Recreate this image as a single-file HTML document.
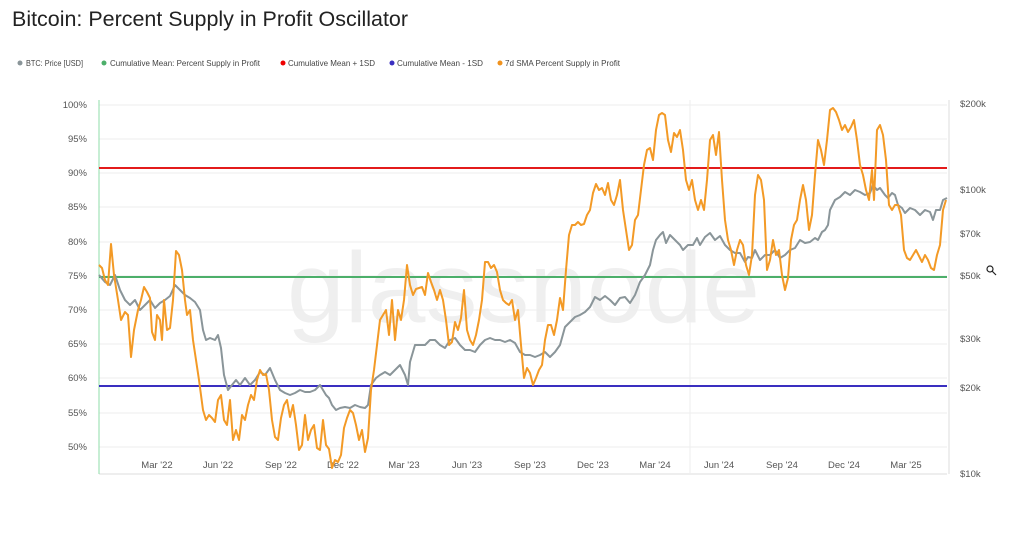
<!DOCTYPE html>
<html><head><meta charset="utf-8"><style>
body{margin:0;background:#fff;width:1024px;height:533px;overflow:hidden;font-family:"Liberation Sans",sans-serif}
</style></head><body>
<svg width="1024" height="533" xmlns="http://www.w3.org/2000/svg" font-family="Liberation Sans, sans-serif">
<text x="12" y="26" font-size="21" fill="#222" textLength="396" lengthAdjust="spacingAndGlyphs">Bitcoin: Percent Supply in Profit Oscillator</text>
<g font-size="8.5" fill="#444">
<circle cx="20" cy="63" r="2.5" fill="#8a9599"/><text x="26" y="66" textLength="57" lengthAdjust="spacingAndGlyphs">BTC: Price [USD]</text>
<circle cx="104" cy="63" r="2.5" fill="#4caf6a"/><text x="110" y="66" textLength="150" lengthAdjust="spacingAndGlyphs">Cumulative Mean: Percent Supply in Profit</text>
<circle cx="283" cy="63" r="2.5" fill="#e00"/><text x="288" y="66" textLength="87" lengthAdjust="spacingAndGlyphs">Cumulative Mean + 1SD</text>
<circle cx="392" cy="63" r="2.5" fill="#3a2fc0"/><text x="397" y="66" textLength="86" lengthAdjust="spacingAndGlyphs">Cumulative Mean - 1SD</text>
<circle cx="500" cy="63" r="2.5" fill="#f0921d"/><text x="505" y="66" textLength="115" lengthAdjust="spacingAndGlyphs">7d SMA Percent Supply in Profit</text>
</g>
<text x="287" y="322" font-size="100" fill="#efefef" textLength="473" lengthAdjust="spacingAndGlyphs">glassnode</text>
<g stroke="#eee" stroke-width="1">
<line x1="99" x2="947" y1="105" y2="105"/><line x1="99" x2="947" y1="139" y2="139"/><line x1="99" x2="947" y1="173" y2="173"/><line x1="99" x2="947" y1="207" y2="207"/><line x1="99" x2="947" y1="242" y2="242"/><line x1="99" x2="947" y1="276" y2="276"/><line x1="99" x2="947" y1="310" y2="310"/><line x1="99" x2="947" y1="344" y2="344"/><line x1="99" x2="947" y1="378" y2="378"/><line x1="99" x2="947" y1="413" y2="413"/><line x1="99" x2="947" y1="447" y2="447"/>
<line x1="99" x2="947" y1="474" y2="474" stroke="#ddd"/>
<line x1="690" x2="690" y1="100" y2="474"/>
</g>
<line x1="99" y1="100" x2="99" y2="474" stroke="#8fdcaa" stroke-width="1"/>
<line x1="949" y1="100" x2="949" y2="474" stroke="#ddd" stroke-width="1"/>
<g font-size="9.5" fill="#555" text-anchor="end">
<text x="87" y="108">100%</text><text x="87" y="142">95%</text><text x="87" y="176">90%</text><text x="87" y="210">85%</text><text x="87" y="245">80%</text><text x="87" y="279">75%</text><text x="87" y="313">70%</text><text x="87" y="347">65%</text><text x="87" y="381">60%</text><text x="87" y="416">55%</text><text x="87" y="450">50%</text>
</g>
<g font-size="9.5" fill="#555">
<text x="960" y="107">$200k</text><text x="960" y="193">$100k</text><text x="960" y="237">$70k</text><text x="960" y="279">$50k</text><text x="960" y="342">$30k</text><text x="960" y="391">$20k</text><text x="960" y="477">$10k</text>
</g>
<g font-size="9.5" fill="#555" text-anchor="middle">
<text x="157" y="468">Mar '22</text><text x="218" y="468">Jun '22</text><text x="281" y="468">Sep '22</text><text x="343" y="468">Dec '22</text><text x="404" y="468">Mar '23</text><text x="467" y="468">Jun '23</text><text x="530" y="468">Sep '23</text><text x="593" y="468">Dec '23</text><text x="655" y="468">Mar '24</text><text x="719" y="468">Jun '24</text><text x="782" y="468">Sep '24</text><text x="844" y="468">Dec '24</text><text x="906" y="468">Mar '25</text>
</g>
<line x1="99" x2="947" y1="168" y2="168" stroke="#e31b1b" stroke-width="2"/>
<line x1="99" x2="947" y1="277" y2="277" stroke="#4caf6a" stroke-width="2"/>
<line x1="99" x2="947" y1="386" y2="386" stroke="#3a2fc0" stroke-width="2"/>
<polyline fill="none" stroke="#8a9599" stroke-width="2" stroke-linejoin="round" points="99,275 105,282 110,285 115,275 120,290 125,300 130,305 135,300 140,310 145,305 150,300 155,308 160,303 165,300 170,296 175,285 180,290 185,295 190,298 195,302 200,310 203,330 206,340 210,338 215,340 218,335 221,348 224,375 228,390 232,385 236,380 240,385 245,378 250,385 255,380 260,372 265,375 270,368 275,380 280,390 285,393 290,395 295,393 300,390 305,392 310,392 315,390 320,385 323,390 326,395 329,398 332,405 336,410 340,408 345,407 350,408 355,405 360,407 365,408 368,405 371,385 376,378 380,375 385,372 390,375 395,370 400,365 405,375 408,385 410,362 415,345 420,345 425,345 430,340 435,340 440,345 445,348 450,340 455,338 460,345 465,350 470,350 475,352 480,345 485,340 490,338 495,340 500,340 505,342 510,340 515,343 520,352 525,355 530,355 535,357 540,355 545,352 550,357 555,352 560,345 565,327 570,322 575,317 580,315 585,312 590,307 595,297 600,300 605,296 610,300 615,305 620,298 625,297 630,303 635,295 640,282 645,275 650,265 653,250 656,240 660,235 663,232 666,243 670,235 675,240 680,245 683,250 688,245 693,245 697,238 700,245 705,237 710,233 715,240 720,236 725,245 730,250 735,253 740,253 745,262 748,257 752,258 755,250 760,260 765,255 770,255 775,250 780,258 785,255 790,250 795,248 800,240 805,243 810,242 815,238 818,240 822,232 825,230 828,225 830,210 835,200 840,197 845,192 850,195 855,190 860,192 865,195 870,193 873,185 877,190 880,188 885,195 888,198 892,193 895,195 898,205 902,208 905,213 910,208 915,210 920,215 925,210 930,212 933,220 936,210 940,210 943,200 947,198"/>
<polyline fill="none" stroke="#f39a26" stroke-width="2" stroke-linejoin="round" points="99,265 102,268 105,280 108,285 111,244 114,275 118,300 121,320 125,312 128,315 131,357 134,330 138,310 141,300 144,287 147,292 150,298 152,332 155,340 157,315 160,320 162,340 164,300 167,330 170,328 173,300 176,251 179,255 182,270 185,300 187,315 190,310 193,340 196,360 199,380 203,410 206,420 209,415 212,418 215,422 218,400 221,395 224,420 227,425 230,400 233,440 236,430 239,440 242,415 245,420 248,405 251,395 254,400 257,380 260,370 263,375 266,374 269,390 272,420 275,437 278,440 281,418 284,405 287,400 290,417 293,405 296,425 299,450 302,445 305,415 308,440 311,430 314,425 317,448 320,450 323,420 326,445 329,449 332,468 335,460 338,462 341,455 344,428 347,418 350,410 353,413 356,425 359,440 362,430 365,452 368,438 371,390 374,370 377,345 380,320 383,315 386,310 389,335 392,300 395,340 398,310 401,320 404,300 407,265 410,285 413,295 416,289 419,288 422,287 425,295 428,273 431,282 434,290 437,300 440,290 443,300 446,320 449,345 452,342 455,322 458,330 461,318 464,290 467,330 470,340 473,345 476,335 479,320 482,300 485,262 488,262 491,268 494,265 497,272 500,290 503,300 506,303 509,305 512,300 515,320 518,310 521,345 524,378 527,368 530,373 533,385 536,378 539,370 542,365 545,340 548,325 551,325 554,335 557,320 560,298 563,310 566,270 569,235 572,225 575,225 578,222 581,225 584,224 587,215 590,210 593,193 596,184 599,190 602,188 605,195 608,183 611,200 614,205 617,195 620,180 623,210 626,230 629,250 632,245 635,220 638,215 641,190 644,165 647,150 650,148 653,160 656,130 659,115 662,113 665,115 668,140 671,152 674,133 677,137 680,130 683,150 686,180 689,190 692,180 695,200 698,210 701,200 704,210 707,180 710,140 713,135 716,155 719,132 722,180 725,220 728,240 731,250 734,265 737,250 740,240 743,245 746,265 749,275 752,255 755,195 758,175 761,180 764,200 767,270 770,260 773,240 776,255 779,250 782,275 785,290 788,278 791,240 794,225 797,220 800,200 803,185 806,200 809,230 812,215 815,175 818,140 821,150 824,165 827,140 830,110 833,108 836,112 839,120 842,130 845,125 848,132 851,127 854,120 857,140 860,165 863,175 866,190 869,200 872,170 874,200 877,130 880,125 883,135 886,160 889,205 892,210 895,205 898,205 901,215 904,250 907,258 910,260 913,255 916,250 919,256 922,262 925,255 928,260 931,268 934,270 937,255 940,245 943,210 946,200"/>
<g stroke="#222" fill="none" stroke-width="1.2"><circle cx="990" cy="269" r="3"/><line x1="992" y1="271" x2="996" y2="275"/></g>
</svg>
</body></html>
